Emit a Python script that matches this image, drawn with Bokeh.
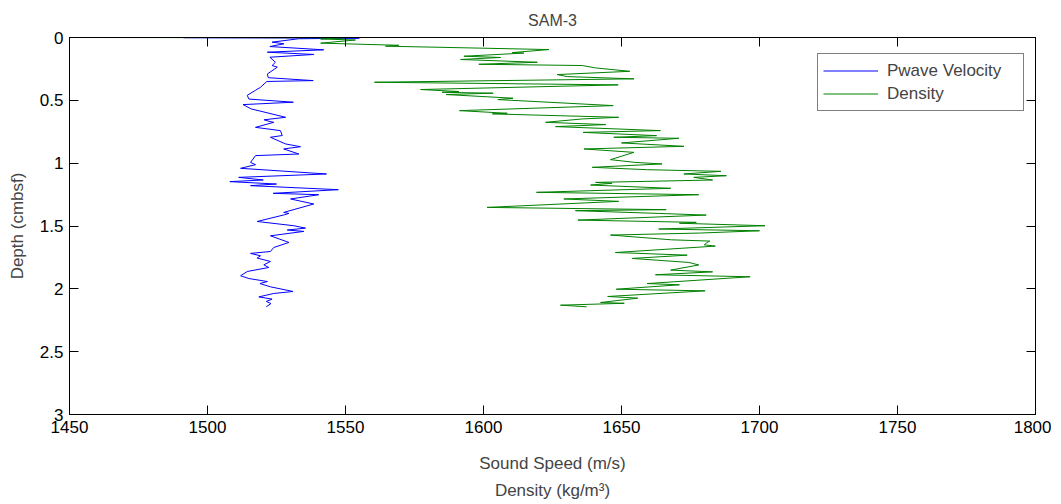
from bokeh.plotting import figure
from bokeh.models import Range1d, LinearAxis, FixedTicker, Legend
from bokeh.embed import file_html
from bokeh.resources import INLINE

# ---- data ----
pwave_velocity = [1491.3, 1555.0, 1533.0, 1523.4, 1527.7, 1522.6, 1542.1, 1521.7, 1538.5, 1522.6,
                  1524.6, 1523.4, 1525.3, 1521.7, 1522.0, 1538.3, 1521.5, 1519.2, 1517.4, 1514.4,
                  1515.0, 1531.1, 1512.9, 1515.8, 1528.3, 1520.5, 1522.3, 1524.0, 1517.4, 1526.4,
                  1527.1, 1522.8, 1528.3, 1533.7, 1527.6, 1533.1, 1517.4, 1515.6, 1517.4, 1512.0,
                  1543.1, 1511.3, 1520.2, 1508.1, 1525.0, 1515.6, 1547.4, 1523.8, 1540.3, 1530.1,
                  1538.5, 1527.6, 1529.5, 1528.0, 1518.0, 1531.3, 1535.5, 1528.9, 1534.9, 1522.8,
                  1529.5, 1524.0, 1522.8, 1515.6, 1519.2, 1518.0, 1522.8, 1520.4, 1522.2, 1514.4,
                  1512.0, 1515.0, 1521.7, 1519.0, 1522.8, 1531.0, 1524.0, 1518.6, 1523.4, 1521.3,
                  1523.0, 1521.3]
pwave_depth = [0.002, 0.005, 0.010, 0.037, 0.050, 0.072, 0.098, 0.117, 0.135, 0.157,
               0.197, 0.223, 0.236, 0.290, 0.320, 0.343, 0.350, 0.396, 0.420, 0.460,
               0.490, 0.515, 0.534, 0.568, 0.635, 0.655, 0.667, 0.675, 0.715, 0.741,
               0.780, 0.794, 0.847, 0.869, 0.887, 0.927, 0.940, 0.994, 1.012, 1.041,
               1.086, 1.113, 1.134, 1.147, 1.166, 1.179, 1.211, 1.240, 1.251, 1.285,
               1.325, 1.392, 1.400, 1.410, 1.464, 1.498, 1.517, 1.532, 1.543, 1.578,
               1.631, 1.671, 1.703, 1.718, 1.737, 1.755, 1.782, 1.809, 1.830, 1.862,
               1.896, 1.918, 1.942, 1.958, 1.984, 2.021, 2.037, 2.064, 2.082, 2.100,
               2.117, 2.143]

density = [1450.0, 1550.0, 1541.0, 1553.6, 1541.0, 1569.3, 1564.5, 1623.7, 1610.4, 1614.6,
           1592.9, 1606.2, 1591.7, 1619.5, 1598.3, 1635.8, 1640.6, 1653.0, 1626.7, 1630.3,
           1654.5, 1560.5, 1648.8, 1577.2, 1591.1, 1585.0, 1603.5, 1586.5, 1610.7, 1605.2,
           1647.0, 1591.3, 1608.6, 1603.2, 1649.0, 1635.8, 1622.5, 1644.3, 1626.1, 1664.1,
           1636.1, 1662.7, 1647.2, 1670.8, 1650.0, 1672.6, 1636.4, 1654.5, 1646.0, 1655.0,
           1664.7, 1639.4, 1659.3, 1686.0, 1672.6, 1688.0, 1676.2, 1683.0, 1640.6, 1646.6,
           1638.8, 1667.8, 1619.2, 1678.0, 1629.1, 1649.0, 1601.3, 1666.2, 1633.3, 1663.5,
           1680.7, 1634.2, 1677.1, 1671.0, 1702.0, 1663.5, 1700.0, 1678.6, 1646.0, 1668.1,
           1682.0, 1680.7, 1680.0, 1684.0, 1647.8, 1673.8, 1653.9, 1674.4, 1678.0, 1667.8,
           1683.0, 1662.3, 1696.6, 1659.3, 1671.0, 1648.1, 1680.3, 1645.0, 1655.9, 1642.4,
           1651.0, 1627.9, 1637.4]
density_depth = [0.000, 0.002, 0.012, 0.020, 0.045, 0.062, 0.069, 0.096, 0.120, 0.124,
                 0.149, 0.159, 0.175, 0.197, 0.213, 0.223, 0.242, 0.269, 0.295, 0.311,
                 0.329, 0.356, 0.377, 0.414, 0.430, 0.436, 0.443, 0.454, 0.483, 0.494,
                 0.542, 0.582, 0.603, 0.608, 0.635, 0.648, 0.675, 0.693, 0.709, 0.741,
                 0.755, 0.781, 0.794, 0.802, 0.839, 0.866, 0.887, 0.914, 0.972, 0.994,
                 1.006, 1.033, 1.052, 1.065, 1.086, 1.100, 1.113, 1.134, 1.153, 1.160,
                 1.174, 1.200, 1.232, 1.251, 1.285, 1.304, 1.352, 1.370, 1.378, 1.400,
                 1.413, 1.453, 1.471, 1.478, 1.498, 1.524, 1.538, 1.556, 1.572, 1.610,
                 1.620, 1.636, 1.650, 1.660, 1.711, 1.732, 1.758, 1.790, 1.810, 1.851,
                 1.865, 1.888, 1.904, 1.958, 1.968, 2.003, 2.016, 2.061, 2.074, 2.109,
                 2.115, 2.130, 2.143]

x_ticks = [1450, 1500, 1550, 1600, 1650, 1700, 1750, 1800]
y_ticks = [0, 0.5, 1, 1.5, 2, 2.5, 3]
y_tick_labels = ["0", "0.5", "1", "1.5", "2", "2.5", "3"]

title_text = "SAM-3"
x_label_1 = "Sound Speed (m/s)"
x_label_2 = "Density (kg/m³)"
y_label = "Depth (cmbsf)"
series_names = ["Pwave Velocity", "Density"]
series_colors = ["#0000FF", "#008000"]

FONT = "Liberation Sans"
FS = "17px"

p = figure(frame_width=966, frame_height=377,
           x_range=Range1d(1450, 1800), y_range=Range1d(3, 0),
           output_backend="svg", toolbar_location=None,
           min_border_left=69, min_border_top=37, min_border_bottom=90, min_border_right=16,
           background_fill_color="white", border_fill_color="white")

p.title.text = title_text
p.title.align = "center"
p.title.offset = -12
p.title.text_font = FONT
p.title.text_font_size = "16px"
p.title.text_font_style = "normal"
p.title.standoff = 17

p.grid.visible = False
p.outline_line_color = "black"
p.outline_line_width = 1

xa = p.xaxis[0]
xa.ticker = FixedTicker(ticks=x_ticks)
for k, v in [("major_tick_in", 9), ("major_tick_out", 0), ("minor_tick_in", 0), ("minor_tick_out", 0)]:
    setattr(xa, k, v)
xa.major_label_text_font = FONT
xa.major_label_text_font_size = FS
xa.major_label_text_color = "black"
xa.major_label_standoff = 6
xa.axis_label = x_label_1
xa.axis_label_text_font = FONT
xa.axis_label_text_font_size = FS
xa.axis_label_text_font_style = "normal"
xa.axis_label_standoff = 18

ya = p.yaxis[0]
ya.ticker = FixedTicker(ticks=y_ticks)
for k, v in [("major_tick_in", 9), ("major_tick_out", 0), ("minor_tick_in", 0), ("minor_tick_out", 0)]:
    setattr(ya, k, v)
ya.major_label_overrides = {t: s for t, s in zip(y_ticks, y_tick_labels)}
ya.major_label_text_font = FONT
ya.major_label_text_font_size = FS
ya.major_label_text_color = "black"
ya.major_label_standoff = 6
ya.axis_label = y_label
ya.axis_label_text_font = FONT
ya.axis_label_text_font_size = FS
ya.axis_label_text_font_style = "normal"
ya.axis_label_standoff = 10

# second line of the x label
xa2 = LinearAxis(axis_label=x_label_2, ticker=FixedTicker(ticks=[]),
                 axis_line_color=None, major_tick_line_color=None, minor_tick_line_color=None,
                 major_label_text_color=None, major_label_standoff=0,
                 axis_label_standoff=5, axis_label_text_font=FONT,
                 axis_label_text_font_size=FS, axis_label_text_font_style="normal")
p.add_layout(xa2, "below")

# box ticks on top and right (labels not drawn)
top_ax = LinearAxis(ticker=FixedTicker(ticks=x_ticks), major_tick_in=9, major_tick_out=0,
                    minor_tick_line_color=None, major_label_text_color=None,
                    major_label_standoff=0)
right_ax = LinearAxis(ticker=FixedTicker(ticks=y_ticks), major_tick_in=9, major_tick_out=0,
                      minor_tick_line_color=None, major_label_text_color=None,
                      major_label_standoff=0)
p.add_layout(top_ax, "above")
p.add_layout(right_ax, "right")

r1 = p.line(pwave_velocity, pwave_depth, line_color=series_colors[0], line_width=1)
r2 = p.line(density, density_depth, line_color=series_colors[1], line_width=1)

legend = Legend(items=[(series_names[0], [r1]), (series_names[1], [r2])],
                location=(748, 303), orientation="vertical",
                border_line_color="black", border_line_width=1,
                background_fill_color="white", background_fill_alpha=1,
                label_text_font=FONT, label_text_font_size=FS,
                glyph_width=55, glyph_height=23, label_height=23, label_width=131,
                label_standoff=9, spacing=0, padding=5, margin=0)
p.add_layout(legend, "center")

open("out.html", "w").write(file_html(p, INLINE))
